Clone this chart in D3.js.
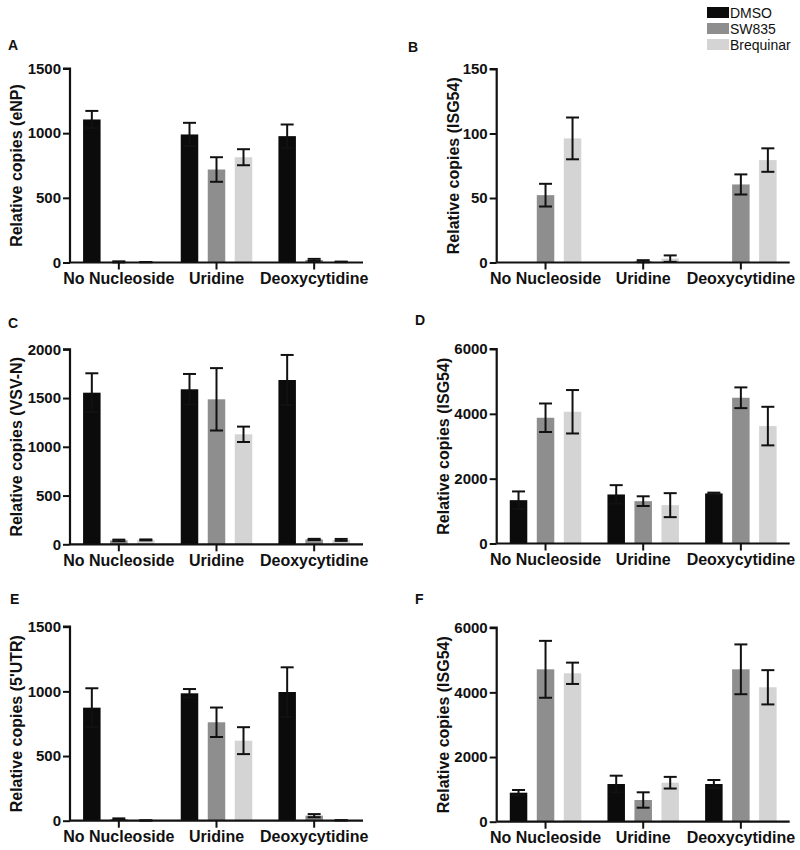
<!DOCTYPE html>
<html><head><meta charset="utf-8">
<script src="https://cdn.jsdelivr.net/npm/d3@7"></script>
<style>body{margin:0;background:#fff}svg{display:block}text{font-family:"Liberation Sans",Arial,sans-serif}</style>
</head><body><svg id="c" width="800" height="850"></svg>
<script>
const categories = ["No Nucleoside","Uridine","Deoxycytidine"];
const seriesNames = ["DMSO","SW835","Brequinar"];
const seriesColors = ["#0b0b0b","#8e8e8e","#d4d4d4"];

// values [category][series], errors (SD) [category][series]
const valA = [[1106,5,3],[990,719,814],[977,20,5]];
const errA = [[66,4,1],[90,95,62],[90,8,2]];
const valB = [[0,52.2,96.2],[0,1,3],[0,60.5,79.4]];
const errB = [[0,8.8,16.2],[0,0.8,2.5],[0,7.8,9.1]];
const valC = [[1555,40,45],[1590,1487,1128],[1685,50,45]];
const errC = [[199,8,5],[157,320,79],[257,6,10]];
const valD = [[1337,3879,4064],[1513,1306,1183],[1544,4496,3622]];
const errD = [[269,440,670],[287,150,370],[25,320,595]];
const valE = [[874,12,2],[985,761,619],[995,39,3]];
const errE = [[150,6,1],[33,114,104],[191,12,1]];
const valF = [[897,4713,4590],[1166,671,1206],[1166,4713,4157]];
const errF = [[83,880,330],[257,238,180],[124,770,530]];

const yMaxes = [1500,150,2000,6000,1500,6000];
const yTicks = [[0,500,1000,1500],[0,50,100,150],[0,500,1000,1500,2000],[0,2000,4000,6000],[0,500,1000,1500],[0,2000,4000,6000]];
const yTitles = ["Relative copies (eNP)","Relative copies (ISG54)","Relative copies (VSV-N)","Relative copies (ISG54)","Relative copies (5'UTR)","Relative copies (ISG54)"];
const panelLetters = ["A","B","C","D","E","F"];

const svg = d3.select("#c");
const panels = [
  {v:valA,e:errA,x0:70,top:68.5,bot:262.5,tx:16,lx:8,ly:50},
  {v:valB,e:errB,x0:496.7,top:69,bot:262.5,tx:453,lx:408,ly:52},
  {v:valC,e:errC,x0:70,top:349.3,bot:544.3,tx:16,lx:8,ly:328},
  {v:valD,e:errD,x0:496.7,top:349,bot:543.5,tx:443,lx:415,ly:325},
  {v:valE,e:errE,x0:70,top:626.7,bot:820.7,tx:16,lx:10,ly:604},
  {v:valF,e:errF,x0:496.7,top:627.7,bot:821.7,tx:443,lx:415,ly:604}
];
const axisW = 293, barW = 17.5, barStep = 27, capW = 13;

panels.forEach((p,i)=>{
  const g = svg.append("g");
  const x = d3.scaleBand().domain(categories).range([p.x0,p.x0+axisW]).padding(0);
  const xs = d3.scaleBand().domain(seriesNames).range([-barStep*1.5,barStep*1.5]);
  const y = d3.scaleLinear().domain([0,yMaxes[i]]).range([p.bot,p.top]);

  categories.forEach((c,ci)=>{
    seriesNames.forEach((s,si)=>{
      const v = p.v[ci][si], e = p.e[ci][si];
      const cx = x(c)+x.bandwidth()/2 + xs(s)+xs.bandwidth()/2;
      if(v>0) g.append("rect").attr("x",cx-barW/2).attr("y",y(v)).attr("width",barW)
        .attr("height",p.bot-y(v)).attr("fill",seriesColors[si]);
      if(e>0){
        const eg = g.append("g").attr("stroke","#111").attr("stroke-width",2);
        eg.append("line").attr("x1",cx).attr("x2",cx).attr("y1",y(v+e)).attr("y2",y(Math.max(0,v-e)));
        eg.append("line").attr("x1",cx-capW/2).attr("x2",cx+capW/2).attr("y1",y(v+e)).attr("y2",y(v+e));
        if(v-e>0) eg.append("line").attr("x1",cx-capW/2).attr("x2",cx+capW/2).attr("y1",y(v-e)).attr("y2",y(v-e));
      }
    });
  });

  const ya = g.append("g").attr("transform",`translate(${p.x0},0)`)
    .call(d3.axisLeft(y).tickValues(yTicks[i]).tickSize(7).tickPadding(2).tickFormat(d3.format("d")));
  ya.select(".domain").attr("stroke","#111").attr("stroke-width",2.2).attr("d",`M-7,${p.top}H0V${p.bot}`);
  ya.selectAll(".tick line").attr("stroke","#111").attr("stroke-width",2);
  ya.selectAll(".tick text").attr("fill","#111").style("font-size","15px").style("font-weight","bold");

  const xa = g.append("g").attr("transform",`translate(0,${p.bot})`)
    .call(d3.axisBottom(x).tickSize(7).tickPadding(3));
  xa.select(".domain").attr("stroke","#111").attr("stroke-width",2.2).attr("d",`M${p.x0},0H${p.x0+axisW}`);
  xa.selectAll(".tick line").attr("stroke","#111").attr("stroke-width",2);
  xa.selectAll(".tick text").attr("fill","#111").style("font-size","16px").style("font-weight","bold");

  g.append("text").attr("transform",`translate(${p.tx},${(p.top+p.bot)/2}) rotate(-90)`)
    .attr("text-anchor","middle").attr("dy","0.35em").style("font-size","16px").style("font-weight","bold")
    .attr("fill","#111").text(yTitles[i]);
  g.append("text").attr("x",p.lx).attr("y",p.ly).style("font-size","14px").style("font-weight","bold")
    .attr("fill","#111").text(panelLetters[i]);
});

const lg = svg.append("g");
seriesNames.forEach((s,i)=>{
  lg.append("rect").attr("x",707).attr("y",7+i*16).attr("width",22).attr("height",11).attr("fill",seriesColors[i]);
  lg.append("text").attr("x",730).attr("y",17.5+i*16).style("font-size","14px").attr("fill","#111").text(s);
});
</script></body></html>
